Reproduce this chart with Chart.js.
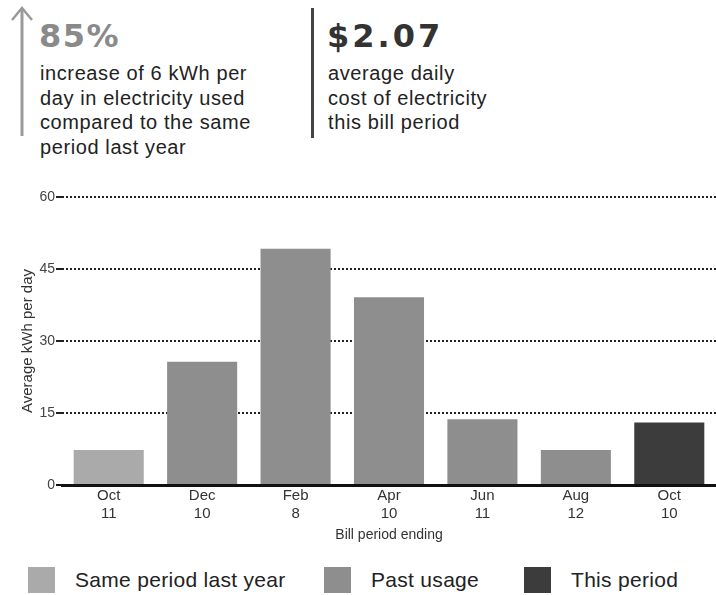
<!DOCTYPE html>
<html>
<head>
<meta charset="utf-8">
<script src="https://cdn.jsdelivr.net/npm/chart.js@4"></script>
<style>
  html, body { margin:0; padding:0; background:#fff; }
  body { width:716px; height:595px; position:relative; overflow:hidden; font-family:"Liberation Sans", Arial, sans-serif; }
  .big { position:absolute; font-family:"DejaVu Sans", sans-serif; font-weight:bold; font-size:32px; line-height:32px; letter-spacing:1.5px; }
  .body { position:absolute; font-size:20px; line-height:24.5px; letter-spacing:0.6px; color:#222; }
  #chartWrap { position:absolute; left:0; top:170px; width:716px; height:375px; }
  #legend { position:absolute; top:567px; left:0; width:716px; height:28px; }
  .li { position:absolute; top:0; height:26px; font-size:21px; line-height:26px; letter-spacing:0.3px; color:#222; }
  .sw { position:absolute; left:0; top:0; width:27px; height:26px; }
</style>
</head>
<body>
<svg style="position:absolute;left:0;top:0" width="60" height="140">
  <line x1="22" y1="9" x2="22" y2="136" stroke="#9a9a9a" stroke-width="3"/>
  <polyline points="12,20 22,8 32,20" fill="none" stroke="#9a9a9a" stroke-width="2.5"/>
</svg>
<div style="position:absolute;left:311px;top:8px;width:3px;height:130px;background:#444"></div>
<div class="big" style="left:39px;top:20px;color:#8a8a8a">85%</div>
<div class="body" style="left:40px;top:61px">increase of 6 kWh per<br>day in electricity used<br>compared to the same<br>period last year</div>
<div class="big" style="left:327px;top:20px;color:#333;letter-spacing:3px">$2.07</div>
<div class="body" style="left:328px;top:61px">average daily<br>cost of electricity<br>this bill period</div>

<div id="chartWrap"><canvas id="c"></canvas></div>
<div id="legend"></div>

<script>
const categories = [["Oct","11"],["Dec","10"],["Feb","8"],["Apr","10"],["Jun","11"],["Aug","12"],["Oct","10"]];
const usage = [7.3, 25.7, 49.2, 39.1, 13.7, 7.3, 13.0];
const barKinds = ["Same period last year","Past usage","Past usage","Past usage","Past usage","Past usage","This period"];
const legendLabels = ["Same period last year","Past usage","This period"];
const legendColors = ["#aaaaaa","#8e8e8e","#3c3c3c"];
const yTicks = [0, 15, 30, 45, 60];

const colorOf = k => legendColors[legendLabels.indexOf(k)];

const ctx = document.getElementById('c');
new Chart(ctx, {
  type: 'bar',
  data: {
    labels: categories,
    datasets: [{
      data: usage,
      backgroundColor: barKinds.map(colorOf),
      borderWidth: 0,
      barPercentage: 0.75,
      categoryPercentage: 1.0
    }]
  },
  options: {
    responsive: true,
    maintainAspectRatio: false,
    animation: false,
    layout: { padding: { top: 27, right: 0, left: 0, bottom: 0 } },
    plugins: { legend: { display: false }, tooltip: { enabled: false } },
    scales: {
      x: {
        afterFit: s => { s.height = 60; },
        grid: { display: false, drawTicks: false },
        border: { display: true, color: '#111', width: 3 },
        ticks: { color: '#333', font: { family: 'Liberation Sans', size: 15, lineHeight: 1.2 }, padding: 2, maxRotation: 0 },
        title: { display: true, text: 'Bill period ending', color: '#333', font: { family: 'Liberation Sans', size: 14 }, padding: { top: 0, bottom: 1 } }
      },
      y: {
        min: 0, max: 60,
        afterBuildTicks: s => { s.ticks = yTicks.map(v => ({ value: v })); },
        afterFit: s => { s.width = 62; },
        border: { display: false, dash: [2, 2] },
        grid: {
          color: c => c.tick && c.tick.value === 0 ? '#111' : '#222',
          lineWidth: 2,
          tickLength: 6,
          drawTicks: true
        },
        ticks: { color: '#444', font: { family: 'Liberation Sans', size: 14 }, padding: 1 },
        title: { display: true, text: 'Average kWh per day', color: '#333', font: { family: 'Liberation Sans', size: 15 }, padding: { top: 19, bottom: 0 } }
      }
    }
  }
});

const lg = document.getElementById('legend');
const lefts = [28, 324, 524];
legendLabels.forEach((t, i) => {
  const d = document.createElement('div');
  d.className = 'li';
  d.style.left = lefts[i] + 'px';
  d.style.paddingLeft = '47px';
  d.innerHTML = '<span class="sw" style="background:' + legendColors[i] + '"></span>' + t;
  lg.appendChild(d);
});
</script>
</body>
</html>
